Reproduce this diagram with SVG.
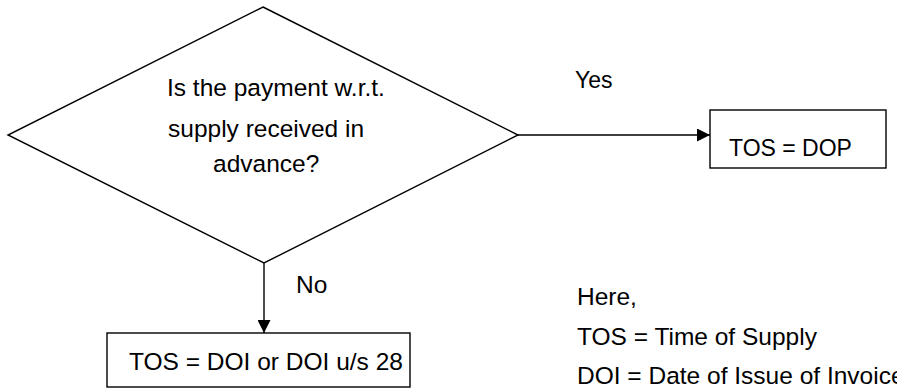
<svg xmlns="http://www.w3.org/2000/svg" width="897" height="388" viewBox="0 0 897 388">
  <style>
    .shape { fill: #ffffff; stroke: #000000; stroke-width: 1.4; }
    .edge { fill: none; stroke: #000000; stroke-width: 1.4; }
    text { font-family: "Liberation Sans", Arial, sans-serif; font-size: 24.5px; fill: #000000; }
    .sm { font-size: 23px; }
  </style>
  <defs>
    <marker id="arrow" viewBox="0 0 12 12" refX="12" refY="6" markerWidth="13" markerHeight="13" markerUnits="userSpaceOnUse" orient="auto">
      <path d="M0,0 L12,6 L0,12 Z" fill="#000000"/>
    </marker>
  </defs>
  <rect width="897" height="388" fill="#ffffff"/>

  <g id="decision">
    <polygon class="shape" points="263,7 518,135 264,263 8,135"/>
    <text x="167" y="96">Is the payment w.r.t.</text>
    <text x="168" y="137">supply received in</text>
    <text x="213" y="172">advance?</text>
  </g>

  <g id="yes-box">
    <rect class="shape" x="710" y="110" width="176" height="58"/>
    <text class="sm" x="729" y="156">TOS = DOP</text>
  </g>

  <g id="no-box">
    <rect class="shape" x="107" y="333" width="303" height="54"/>
    <text x="129" y="370">TOS = DOI or DOI u/s 28</text>
  </g>

  <g id="legend">
    <text x="577" y="305">Here,</text>
    <text x="577" y="345">TOS = Time of Supply</text>
    <text x="577" y="384">DOI = Date of Issue of Invoice</text>
  </g>

  <g id="connectors">
    <line class="edge" x1="518" y1="135" x2="710" y2="135" marker-end="url(#arrow)"/>
    <line class="edge" x1="264" y1="263" x2="264" y2="333" marker-end="url(#arrow)"/>
    <text class="sm" x="575" y="88">Yes</text>
    <text x="296" y="293">No</text>
  </g>
</svg>
